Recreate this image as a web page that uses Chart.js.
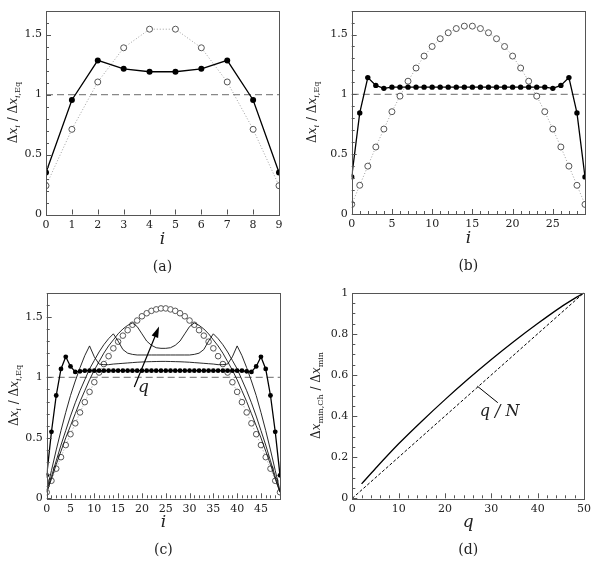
<!DOCTYPE html>
<html>
<head>
<meta charset="utf-8">
<script src="https://cdn.jsdelivr.net/npm/chart.js@4.4.1/dist/chart.umd.min.js"></script>
<style>
  body { margin: 0; background: #fff; }
  #wrap { position: relative; width: 595px; height: 564px; }
  canvas { position: absolute; }
</style>
</head>
<body>
<div id="wrap">
  <canvas id="pa" width="297" height="282" style="left:0;top:0"></canvas>
  <canvas id="pb" width="297" height="282" style="left:298px;top:0"></canvas>
  <canvas id="pc" width="297" height="282" style="left:0;top:282px"></canvas>
  <canvas id="pd" width="297" height="282" style="left:298px;top:282px"></canvas>
</div>
<script>
// ---- data ----
const eqLevel = 1;

// (a) N = 10
const aIdx = [0, 1, 2, 3, 4, 5, 6, 7, 8, 9];
const aCheb = [0.24, 0.71, 1.105, 1.39, 1.545, 1.545, 1.39, 1.105, 0.71, 0.24];
const aOpt = [0.35, 0.955, 1.285, 1.215, 1.19, 1.19, 1.215, 1.285, 0.955, 0.35];

// (b) N = 30
const bIdx = [0, 1, 2, 3, 4, 5, 6, 7, 8, 9, 10, 11, 12, 13, 14, 15, 16, 17, 18, 19, 20, 21, 22, 23, 24, 25, 26, 27, 28, 29];
const bCheb = [0.08, 0.24, 0.40, 0.56, 0.71, 0.855, 0.985, 1.11, 1.22, 1.32, 1.40, 1.465, 1.515, 1.55, 1.57,
               1.57, 1.55, 1.515, 1.465, 1.40, 1.32, 1.22, 1.11, 0.985, 0.855, 0.71, 0.56, 0.40, 0.24, 0.08];
const bOpt = [0.31, 0.845, 1.14, 1.075, 1.05, 1.06, 1.06, 1.06, 1.06, 1.06, 1.06, 1.06, 1.06, 1.06, 1.06,
              1.06, 1.06, 1.06, 1.06, 1.06, 1.06, 1.06, 1.06, 1.06, 1.06, 1.05, 1.075, 1.14, 0.845, 0.31];

// (c) N = 50
const cIdx = [0, 1, 2, 3, 4, 5, 6, 7, 8, 9, 10, 11, 12, 13, 14, 15, 16, 17, 18, 19, 20, 21, 22, 23, 24,
              25, 26, 27, 28, 29, 30, 31, 32, 33, 34, 35, 36, 37, 38, 39, 40, 41, 42, 43, 44, 45, 46, 47, 48, 49];
const cCheb = [0.05, 0.145, 0.245, 0.34, 0.44, 0.53, 0.62, 0.71, 0.795, 0.88, 0.96, 1.04, 1.11, 1.175, 1.24,
               1.295, 1.345, 1.39, 1.435, 1.47, 1.505, 1.53, 1.55, 1.562, 1.57,
               1.57, 1.562, 1.55, 1.53, 1.505, 1.47, 1.435, 1.39, 1.345, 1.295, 1.24, 1.175, 1.11, 1.04, 0.96,
               0.88, 0.795, 0.71, 0.62, 0.53, 0.44, 0.34, 0.245, 0.145, 0.05];
const cOpt = [0.19, 0.55, 0.85, 1.07, 1.17, 1.09, 1.045, 1.05, 1.055, 1.055, 1.055, 1.055, 1.055, 1.055, 1.055,
              1.055, 1.055, 1.055, 1.055, 1.055, 1.055, 1.055, 1.055, 1.055, 1.055,
              1.055, 1.055, 1.055, 1.055, 1.055, 1.055, 1.055, 1.055, 1.055, 1.055, 1.055, 1.055, 1.055, 1.055, 1.055,
              1.055, 1.055, 1.05, 1.045, 1.09, 1.17, 1.07, 0.85, 0.55, 0.19];
const cQ1 = [0.06, 0.23, 0.40, 0.56, 0.71, 0.85, 0.97, 1.08, 1.18, 1.26, 1.17, 1.11, 1.105, 1.105, 1.11,
             1.113, 1.116, 1.119, 1.122, 1.125, 1.127, 1.129, 1.13, 1.131, 1.132,
             1.132, 1.131, 1.13, 1.129, 1.127, 1.125, 1.122, 1.119, 1.116, 1.113, 1.11, 1.105, 1.105, 1.11, 1.17,
             1.26, 1.18, 1.08, 0.97, 0.85, 0.71, 0.56, 0.40, 0.23, 0.06];
const cQ2 = [0.05, 0.18, 0.31, 0.44, 0.56, 0.68, 0.79, 0.89, 0.98, 1.07, 1.14, 1.21, 1.27, 1.32, 1.36,
             1.30, 1.23, 1.20, 1.19, 1.185, 1.185, 1.185, 1.185, 1.185, 1.185,
             1.185, 1.185, 1.185, 1.185, 1.185, 1.185, 1.19, 1.20, 1.23, 1.30, 1.36, 1.32, 1.27, 1.21, 1.14,
             1.07, 0.98, 0.89, 0.79, 0.68, 0.56, 0.44, 0.31, 0.18, 0.05];
const cQ3 = [0.05, 0.16, 0.28, 0.39, 0.50, 0.60, 0.70, 0.80, 0.89, 0.98, 1.06, 1.13, 1.20, 1.26, 1.31,
             1.36, 1.40, 1.43, 1.45, 1.42, 1.36, 1.30, 1.265, 1.245, 1.24,
             1.24, 1.245, 1.265, 1.30, 1.36, 1.42, 1.45, 1.43, 1.40, 1.36, 1.31, 1.26, 1.20, 1.13, 1.06,
             0.98, 0.89, 0.80, 0.70, 0.60, 0.50, 0.39, 0.28, 0.16, 0.05];
const cArrowI = [18.4, 23.6];
const cArrowV = [0.92, 1.42];
const cLabelAt = [20.3, 0.875];

// (d) min spacing ratio vs q
const dQ = [2, 5, 10, 15, 20, 25, 30, 35, 40, 45, 50];
const dRatio = [0.07, 0.145, 0.265, 0.375, 0.48, 0.58, 0.675, 0.765, 0.85, 0.93, 1.0];
const dRefQ = [0, 50];
const dRefV = [0, 1];
const dLeaderQ = [27, 31.4];
const dLeaderV = [0.545, 0.465];
const dLabelAt = [31.8, 0.40];

// ---- helpers ----
const SERIF = '"DejaVu Serif", "Liberation Serif", serif';
const pts = (xs, ys) => xs.map((x, k) => ({ x: x, y: ys[k] }));
const plainNum = v => String(Number(v.toFixed(2)));

function openSet(xs, ys, r) {
  return { data: pts(xs, ys), borderColor: '#888', borderWidth: 0.8, borderDash: [1, 2],
    pointRadius: r, pointBorderColor: '#555', pointBackgroundColor: '#fff', pointBorderWidth: 1 };
}
function filledSet(xs, ys, r) {
  return { data: pts(xs, ys), borderColor: '#000', borderWidth: 1.3,
    pointRadius: r, pointBorderColor: '#000', pointBackgroundColor: '#000', pointBorderWidth: 0 };
}
function curveSet(xs, ys) {
  return { data: pts(xs, ys), borderColor: '#111', borderWidth: 0.9, pointRadius: 0 };
}
function eqSet(xMax) {
  return { data: [{ x: 0, y: eqLevel }, { x: xMax, y: eqLevel }], borderColor: '#888',
    borderWidth: 1.2, borderDash: [7, 4], pointRadius: 0 };
}

function rich(ctx, parts, cx, cy, rot) {
  ctx.save();
  ctx.translate(cx, cy);
  if (rot) ctx.rotate(-Math.PI / 2);
  let w = 0;
  parts.forEach(p => { ctx.font = p[1]; w += ctx.measureText(p[0]).width; });
  let xx = -w / 2;
  ctx.textAlign = 'left';
  ctx.textBaseline = 'alphabetic';
  ctx.fillStyle = '#222';
  parts.forEach(p => { ctx.font = p[1]; ctx.fillText(p[0], xx, p[2]); xx += ctx.measureText(p[0]).width; });
  ctx.restore();
}

const BIG = '12px ' + SERIF, BIGI = 'italic 12px ' + SERIF, SUB = '8px ' + SERIF, SUBI = 'italic 8px ' + SERIF;
const titleEq = [['Δ', BIG, 4], ['x', BIGI, 4], ['i', SUBI, 7], [' / ', BIG, 4], ['Δ', BIG, 4], ['x', BIGI, 4], ['i', SUBI, 7], [',Eq', SUB, 7]];
const titleMin = [['Δ', BIG, 4], ['x', BIGI, 4], ['min,Ch', SUB, 7], [' / ', BIG, 4], ['Δ', BIG, 4], ['x', BIGI, 4], ['min', SUB, 7]];

const deco = {
  id: 'deco',
  afterDatasetsDraw(chart, args, o) {
    const ctx = chart.ctx, a = chart.chartArea, xs = chart.scales.x, ys = chart.scales.y;
    ctx.save();
    ctx.strokeStyle = '#555';
    ctx.lineWidth = 1;
    // inward ticks
    const tickRun = (scale, minor, major, horiz) => {
      const n = Math.round((scale.max - scale.min) / minor);
      for (let k = 0; k <= n; k++) {
        const v = scale.min + k * minor;
        const big = Math.abs(v / major - Math.round(v / major)) < 1e-6;
        const len = big ? 5 : 3;
        const p = Math.round(scale.getPixelForValue(v)) + 0.5;
        ctx.beginPath();
        if (horiz) { ctx.moveTo(p, a.bottom); ctx.lineTo(p, a.bottom - len); }
        else { ctx.moveTo(a.left, p); ctx.lineTo(a.left + len, p); }
        ctx.stroke();
      }
    };
    tickRun(xs, o.xMinor, o.xMajor, true);
    tickRun(ys, o.yMinor, o.yMajor, false);
    ctx.strokeRect(Math.round(a.left) + 0.5, Math.round(a.top) + 0.5, Math.round(a.right - a.left), Math.round(a.bottom - a.top));
    ctx.restore();

    const cx = (a.left + a.right) / 2;
    rich(ctx, o.yTitle, a.left - o.yTitleGap, (a.top + a.bottom) / 2, true);
    rich(ctx, [[o.xTitle, 'italic 17px ' + SERIF, 0]], cx, a.bottom + 29, false);
    rich(ctx, [[o.tag, '14px ' + SERIF, 0]], cx, a.bottom + 56, false);
    if (o.extra) o.extra(chart, ctx);
  }
};

function panel(id, box, datasets, xo, yo, opts) {
  new Chart(document.getElementById(id), {
    type: 'line',
    data: { datasets: datasets },
    options: {
      responsive: false,
      animation: false,
      layout: { padding: { left: box.l - 40, right: 297 - box.r, top: box.t, bottom: 282 - box.b - 20 } },
      plugins: { legend: { display: false }, tooltip: { enabled: false }, deco: opts },
      scales: {
        x: {
          type: 'linear', min: xo.min, max: xo.max,
          afterFit: s => { s.height = 20; },
          grid: { display: false, drawTicks: false }, border: { display: false },
          ticks: { stepSize: xo.step, includeBounds: false, padding: 4, maxRotation: 0, autoSkip: false,
                   callback: plainNum, font: { family: SERIF, size: 11 }, color: '#222' }
        },
        y: {
          type: 'linear', min: yo.min, max: yo.max,
          afterFit: s => { s.width = 40; },
          grid: { display: false, drawTicks: false }, border: { display: false },
          ticks: { stepSize: yo.step, includeBounds: false, padding: 4, autoSkip: false,
                   callback: plainNum, font: { family: SERIF, size: 11 }, color: '#222' }
        }
      }
    },
    plugins: [deco]
  });
}

// (a)
panel('pa', { l: 46, r: 279, t: 8, b: 214.5 },
  [filledSet(aIdx, aOpt, 3), openSet(aIdx, aCheb, 3), eqSet(9)],
  { min: 0, max: 9, step: 1 }, { min: 0, max: 1.7, step: 0.5 },
  { xMinor: 1, xMajor: 1, yMinor: 0.1, yMajor: 0.5, yTitle: titleEq, yTitleGap: 33, xTitle: 'i', tag: '(a)' });

// (b)
panel('pb', { l: 53.7, r: 287, t: 8, b: 214 },
  [filledSet(bIdx, bOpt, 2.7), openSet(bIdx, bCheb, 3), eqSet(29)],
  { min: 0, max: 29, step: 5 }, { min: 0, max: 1.7, step: 0.5 },
  { xMinor: 1, xMajor: 5, yMinor: 0.1, yMajor: 0.5, yTitle: titleEq, yTitleGap: 40, xTitle: 'i', tag: '(b)' });

// (c)
panel('pc', { l: 46.7, r: 280, t: 10.7, b: 216.3 },
  [filledSet(cIdx, cOpt, 2.4), curveSet(cIdx, cQ1), curveSet(cIdx, cQ2), curveSet(cIdx, cQ3),
   openSet(cIdx, cCheb, 2.8), eqSet(49)],
  { min: 0, max: 49, step: 5 }, { min: 0, max: 1.7, step: 0.5 },
  { xMinor: 1, xMajor: 5, yMinor: 0.1, yMajor: 0.5, yTitle: titleEq, yTitleGap: 33, xTitle: 'i', tag: '(c)',
    extra: (chart, ctx) => {
      const xs = chart.scales.x, ys = chart.scales.y;
      const x0 = xs.getPixelForValue(cArrowI[0]), y0 = ys.getPixelForValue(cArrowV[0]);
      const x1 = xs.getPixelForValue(cArrowI[1]), y1 = ys.getPixelForValue(cArrowV[1]);
      const ang = Math.atan2(y1 - y0, x1 - x0);
      ctx.save();
      ctx.strokeStyle = '#000'; ctx.fillStyle = '#000'; ctx.lineWidth = 1.2;
      ctx.beginPath(); ctx.moveTo(x0, y0);
      ctx.lineTo(x1 - 8 * Math.cos(ang), y1 - 8 * Math.sin(ang)); ctx.stroke();
      ctx.beginPath(); ctx.moveTo(x1, y1);
      ctx.lineTo(x1 - 11 * Math.cos(ang) + 3.5 * Math.sin(ang), y1 - 11 * Math.sin(ang) - 3.5 * Math.cos(ang));
      ctx.lineTo(x1 - 11 * Math.cos(ang) - 3.5 * Math.sin(ang), y1 - 11 * Math.sin(ang) + 3.5 * Math.cos(ang));
      ctx.closePath(); ctx.fill();
      ctx.restore();
      rich(ctx, [['q', 'italic 17px ' + SERIF, 0]], xs.getPixelForValue(cLabelAt[0]), ys.getPixelForValue(cLabelAt[1]), false);
    } });

// (d)
panel('pd', { l: 54.3, r: 286, t: 10.7, b: 216.3 },
  [{ data: pts(dQ, dRatio), borderColor: '#000', borderWidth: 1.3, pointRadius: 0, cubicInterpolationMode: 'monotone' },
   { data: pts(dRefQ, dRefV), borderColor: '#000', borderWidth: 1, borderDash: [3, 2], pointRadius: 0 }],
  { min: 0, max: 50, step: 10 }, { min: 0, max: 1, step: 0.2 },
  { xMinor: 2, xMajor: 10, yMinor: 0.05, yMajor: 0.2, yTitle: titleMin, yTitleGap: 36, xTitle: 'q', tag: '(d)',
    extra: (chart, ctx) => {
      const xs = chart.scales.x, ys = chart.scales.y;
      ctx.save();
      ctx.strokeStyle = '#000'; ctx.lineWidth = 1;
      ctx.beginPath();
      ctx.moveTo(xs.getPixelForValue(dLeaderQ[0]), ys.getPixelForValue(dLeaderV[0]));
      ctx.lineTo(xs.getPixelForValue(dLeaderQ[1]), ys.getPixelForValue(dLeaderV[1]));
      ctx.stroke();
      ctx.restore();
      rich(ctx, [['q / N', 'italic 16px ' + SERIF, 0]], xs.getPixelForValue(dLabelAt[0]), ys.getPixelForValue(dLabelAt[1]), false);
    } });
</script>
</body>
</html>
